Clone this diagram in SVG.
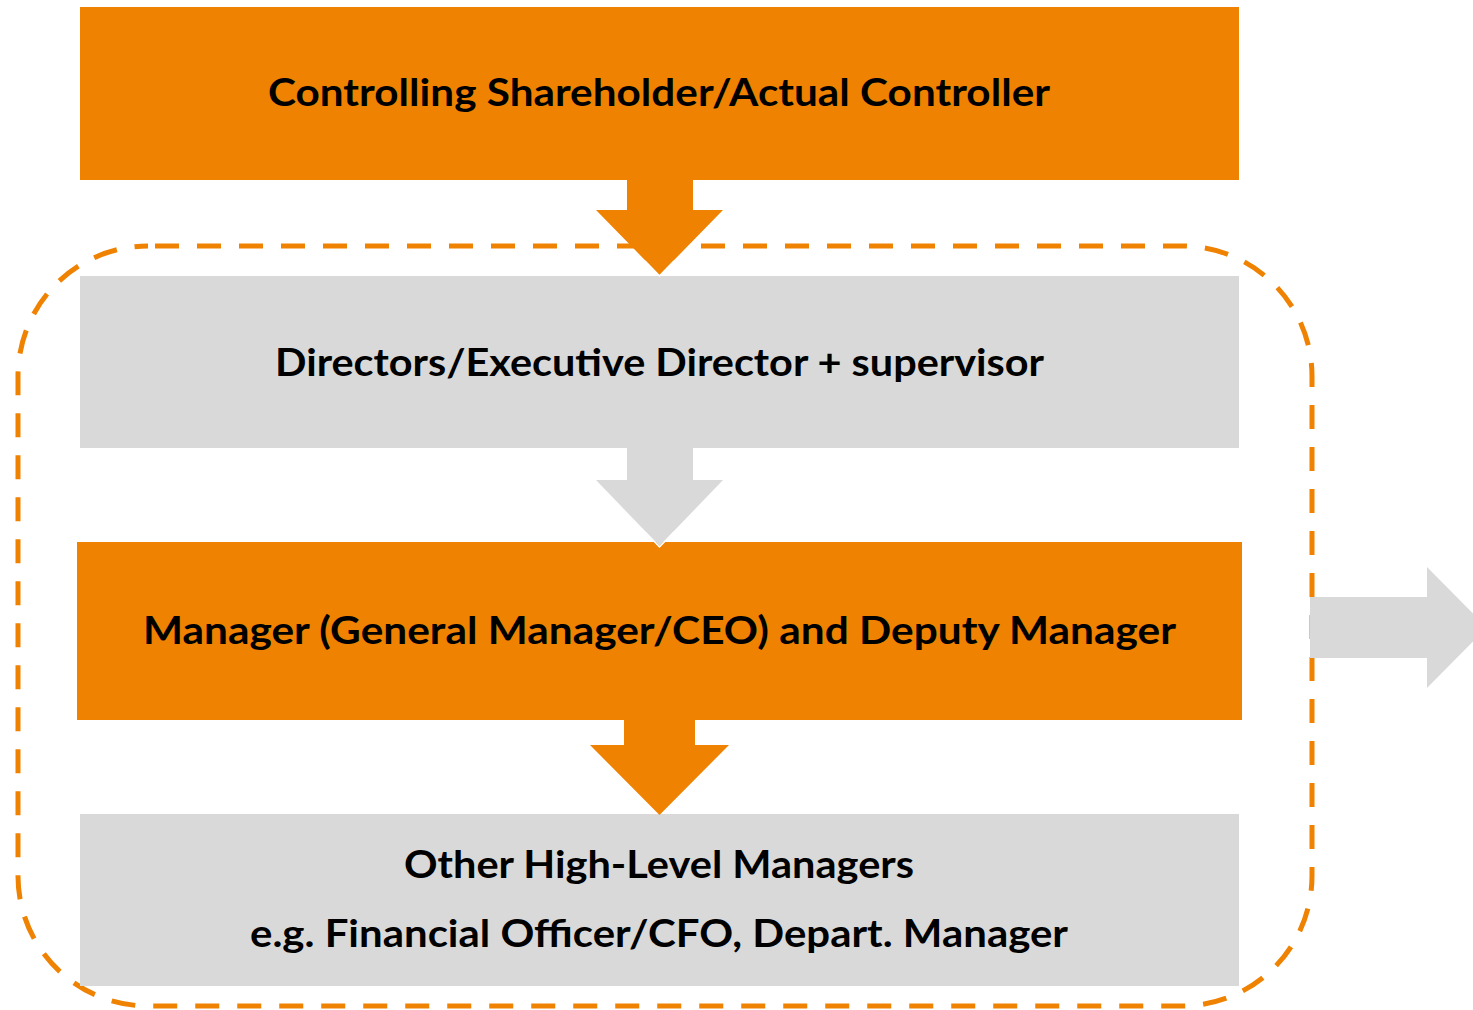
<svg xmlns="http://www.w3.org/2000/svg" width="1473" height="1010" viewBox="0 0 1473 1010">
  <style>
    .orange { fill: #EF8200; }
    .grey { fill: #D9D9D9; }
    .label { font-family: Lato, "Open Sans", "Liberation Sans", sans-serif; font-weight: bold; font-size: 38px; fill: #000; text-anchor: middle; }
    .tipline { fill: none; stroke: #FFFFFF; stroke-width: 1.5; }
  </style>

  <!-- dashed boundary around the board and management levels -->
  <g id="boundary">
    <rect x="18" y="246" width="1294" height="760" rx="130" ry="130" fill="none" stroke="#EF8200" stroke-width="5" stroke-dasharray="24 18" stroke-dashoffset="35"/>
  </g>

  <g id="controller">
    <rect class="orange" x="80" y="7" width="1159" height="173"/>
    <text class="label" x="659" y="106" textLength="782" lengthAdjust="spacingAndGlyphs">Controlling Shareholder/Actual Controller</text>
  </g>

  <g id="directors">
    <rect class="grey" x="80" y="276" width="1159" height="172"/>
    <text class="label" x="659.5" y="376" textLength="769" lengthAdjust="spacingAndGlyphs">Directors/Executive Director + supervisor</text>
  </g>

  <g id="manager">
    <rect class="orange" x="77" y="542" width="1165" height="178"/>
    <text class="label" x="659.5" y="644" textLength="1033" lengthAdjust="spacingAndGlyphs">Manager (General Manager/CEO) and Deputy Manager</text>
  </g>

  <g id="other-managers">
    <rect class="grey" x="80" y="814" width="1159" height="172"/>
    <text class="label" x="659" y="878" textLength="510" lengthAdjust="spacingAndGlyphs">Other High-Level Managers</text>
    <text class="label" x="659" y="947" textLength="818" lengthAdjust="spacingAndGlyphs">e.g. Financial Officer/CFO, Depart. Manager</text>
  </g>

  <g id="connectors">
    <path class="orange" d="M627 180 H693 V210 H723 L659.5 275 L596 210 H627 Z"/>
    <path class="tipline" d="M645 261 L659.5 276 L674 261"/>
    <path class="grey" d="M627 448 H693 V480 H723 L659.5 546 L596 480 H627 Z"/>
    <path class="tipline" d="M645 532 L659.5 547 L674 532"/>
    <path class="orange" d="M624 720 H695 V745 H729 L659.5 815 L590 745 H624 Z"/>
    <path class="grey" d="M1310 597 H1427 V567 L1487 627.5 L1427 688 V658 H1310 Z"/>
  </g>
</svg>
